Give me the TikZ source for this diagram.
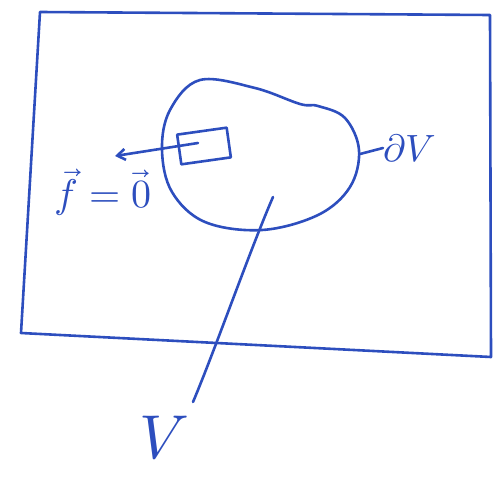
\documentclass[tikz,border=0pt]{standalone}
\usepackage{unicode-math}
\setmathfont{Latin Modern Math}
\usetikzlibrary{arrows.meta}
\definecolor{ink}{RGB}{45,78,190}
\begin{document}
\begin{tikzpicture}[x=1pt,y=-1pt,
  pen/.style={draw=ink,line width=2.6pt,line cap=round,line join=round},
  lbl/.style={text=ink,inner sep=0pt}]
\useasboundingbox (0,0) rectangle (493,479);
% outer frame
\draw[pen] (40,12) -- (490,15) -- (491,357) -- (21,333) -- cycle;
% region V
\draw[pen] plot[smooth cycle,tension=0.6] coordinates {
  (200,80) (255,88) (300,104) (318,106) (345,118) (359,150)
  (350,187) (318,215) (262,230) (205,222) (172,192) (162,150) (170,110)};
% small element
\node[pen,minimum width=50pt,minimum height=30pt,rotate=8] (el) at (204,146) {};
% labels
\node[lbl,font=\fontsize{40}{40}\selectfont] (f) at (103,192) {$\vec f=\vec 0$};
\node[lbl,font=\fontsize{38}{38}\selectfont,anchor=west] (dv) at (383,148) {$\partial V$};
\node[lbl,font=\fontsize{62}{62}\selectfont] (v) at (164,438) {$V$};
% connectors
\coordinate (ec) at (198,143);
\coordinate (ft) at (115,156);
\draw[pen,-{Straight Barb[length=8pt,width=11pt]}] (ec) -- (ft);
\coordinate (bd) at (360,154);
\draw[pen] (bd) -- (dv.west);
\coordinate (vin) at (273,197);
\coordinate (vend) at (193,402);
\draw[pen] (vin) .. controls (250,250) and (215,350) .. (vend);
\end{tikzpicture}
\end{document}
